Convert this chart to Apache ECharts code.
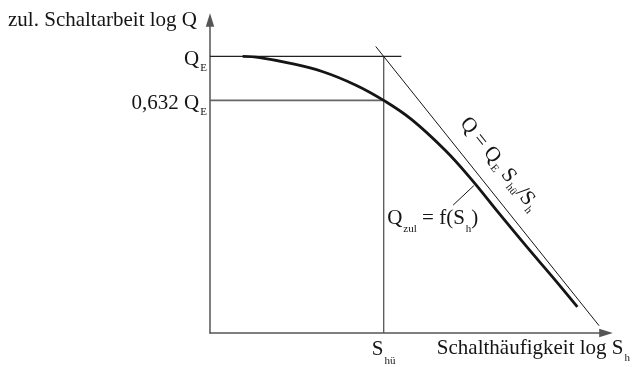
<!DOCTYPE html>
<html>
<head>
<meta charset="utf-8">
<script src="https://cdn.jsdelivr.net/npm/echarts@6/dist/echarts.min.js"></script>
<style>
  html, body { margin: 0; padding: 0; background: #fff; }
  #chart { width: 633px; height: 367px; }
</style>
</head>
<body>
<div id="chart"></div>
<script>
// Log-log coordinates: u = log(S_h / S_hü), w = log(Q / Q_E)

// permissible switching work Q_zul = f(S_h)
const curveU = [-0.798, -0.702, -0.534, -0.348, -0.157, 0.000, 0.157, 0.348, 0.500, 0.646, 0.815, 0.955, 1.096];
const curveW = [ 0.000, -0.005, -0.030, -0.068, -0.130, -0.199, -0.285, -0.425, -0.560, -0.704, -0.867, -0.998, -1.134];

// asymptote Q = Q_E * S_hü / S_h
const tangentU = [-0.045, 1.219];
const tangentW = [ 0.045, -1.219];

// guide lines
const qeLineU = [-0.983, 0.100];
const qeLineW = [0, 0];
const q632LineU = [-0.983, 0];
const q632LineW = [-0.199, -0.199];
const shuLineU = [0, 0];
const shuLineW = [0, -1.252];

// axis ranges
const xMin = -0.983, xMax = 1.258;
const yMin = -1.252, yMax = 0.165;

// tick labels (main text + subscript)
const yTickValues = [0, -0.199];
const yTickMain = ['Q', '0,632 Q'];
const yTickSub = ['E', 'E'];
const xTickValues = [0];
const xTickMain = ['S'];
const xTickSub = ['hü'];

const FONT = '"Liberation Serif", "Times New Roman", Times, serif';
const INK = '#151515';

function zip(a, b) { return a.map((v, i) => [v, b[i]]); }
function idx(arr, v) { return arr.findIndex(t => Math.abs(t - v) < 1e-9); }
function richSet(mainPad, subPad) {
  return {
    m: { fontFamily: FONT, fontSize: 21, color: INK, padding: [mainPad, 0, 0, 0] },
    s: { fontFamily: FONT, fontSize: 11, color: INK, padding: [subPad, 0, 0, 1] }
  };
}

const arrowPath = 'path://M5,0L10,16L0,16Z';

const chart = echarts.init(document.getElementById('chart'), null, { renderer: 'canvas' });

const guide = (u, w, color, width) => ({
  type: 'line',
  data: zip(u, w),
  symbol: 'none',
  silent: true,
  lineStyle: { color: color, width: width },
  z: 2
});

chart.setOption({
  animation: false,
  backgroundColor: '#fff',
  grid: { left: 210, right: 24, top: 20, bottom: 34 },
  xAxis: {
    type: 'value',
    min: xMin,
    max: xMax,
    axisLine: {
      onZero: false,
      lineStyle: { color: '#555', width: 1.5 },
      symbol: ['none', arrowPath],
      symbolSize: [8.5, 16]
    },
    axisTick: { show: false },
    splitLine: { show: false },
    axisLabel: {
      customValues: xTickValues,
      margin: 16,
      verticalAlign: 'middle',
      formatter: v => {
        const i = idx(xTickValues, v);
        return i < 0 ? '' : '{m|' + xTickMain[i] + '}{s|' + xTickSub[i] + '}';
      },
      rich: richSet(0, 24)
    },
    name: '{m|Schalthäufigkeit log S}{s|h}',
    nameLocation: 'end',
    nameGap: 24,
    nameTextStyle: {
      align: 'right',
      verticalAlign: 'top',
      rich: richSet(0, 20)
    }
  },
  yAxis: {
    type: 'value',
    min: yMin,
    max: yMax,
    axisLine: {
      onZero: false,
      lineStyle: { color: '#555', width: 1.5 },
      symbol: ['none', arrowPath],
      symbolSize: [8.5, 16]
    },
    axisTick: { show: false },
    splitLine: { show: false },
    axisLabel: {
      customValues: yTickValues,
      margin: 3,
      formatter: v => {
        const i = idx(yTickValues, v);
        return i < 0 ? '' : '{m|' + yTickMain[i] + '}{s|' + yTickSub[i] + '}';
      },
      rich: richSet(6, 24)
    },
    name: '{m|zul. Schaltarbeit log Q}',
    nameLocation: 'end',
    nameGap: 0,
    nameTextStyle: {
      align: 'right',
      verticalAlign: 'middle',
      padding: [0, 13, 0, 0],
      rich: richSet(0, 0)
    }
  },
  series: [
    guide(qeLineU, qeLineW, '#222', 1.2),
    guide(q632LineU, q632LineW, '#666', 1.8),
    guide(shuLineU, shuLineW, '#555', 1.3),
    {
      type: 'line',
      data: zip(tangentU, tangentW),
      symbol: 'none',
      silent: true,
      lineStyle: { color: INK, width: 1 },
      z: 3,
      markLine: {
        silent: true,
        symbol: ['none', 'none'],
        lineStyle: { color: 'rgba(0,0,0,0)', width: 1, type: 'solid' },
        label: {
          show: true,
          position: 'insideMiddleTop',
          distance: 11,
          color: INK,
          formatter: '{m|Q = Q}{s|E}{m| S}{s|hü}{m|/S}{s|h}',
          rich: richSet(0, 13)
        },
        data: [[{ coord: [tangentU[0], tangentW[0]] }, { coord: [1.15, -1.15] }]]
      }
    },
    {
      type: 'line',
      data: zip(curveU, curveW),
      symbol: 'none',
      smooth: 0.4,
      silent: true,
      lineStyle: { color: INK, width: 2.8 },
      z: 4,
      markLine: {
        silent: true,
        symbol: ['none', 'none'],
        lineStyle: { color: INK, width: 1, type: 'solid' },
        label: { show: false },
        data: [[{ coord: [0.393, -0.673] }, { coord: [0.51, -0.585] }]]
      },
      markPoint: {
        silent: true,
        symbol: 'circle',
        symbolSize: 1,
        itemStyle: { color: 'rgba(0,0,0,0)' },
        label: {
          show: true,
          position: 'right',
          distance: 0,
          formatter: '{m|Q}{s|zul}{m| = f(S}{s|h}{m|)}',
          rich: richSet(0, 22)
        },
        data: [{ coord: [0.017, -0.7315] }]
      }
    }
  ]
});
</script>
</body>
</html>
